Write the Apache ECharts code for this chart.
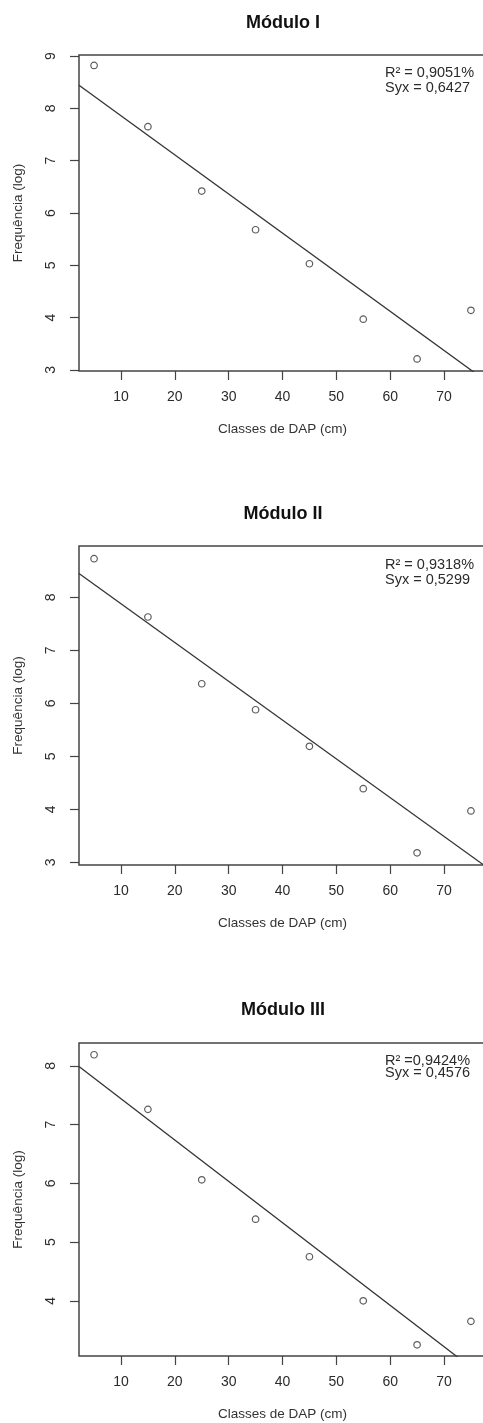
<!DOCTYPE html>
<html>
<head>
<meta charset="utf-8">
<script src="https://cdn.jsdelivr.net/npm/echarts@6/dist/echarts.min.js"></script>
<style>
  html, body { margin: 0; padding: 0; background: #fff; }
  #chart { width: 483px; height: 1423px; }
</style>
</head>
<body>
<div id="chart"></div>
<script>
// classes de DAP (cm)
const dapClasses = [5, 15, 25, 35, 45, 55, 65, 75]
// log da frequência por módulo
const freqModI = [8.82, 7.65, 6.42, 5.68, 5.03, 3.97, 3.21, 4.14]
const freqModII = [8.73, 7.63, 6.37, 5.88, 5.19, 4.39, 3.18, 3.97]
const freqModIII = [8.19, 7.26, 6.06, 5.39, 4.75, 4.00, 3.25, 3.65]

const fitDap = [2.2, 77.8]
const fitModI = [8.44, 2.79]
const fitModII = [8.45, 2.92]
const fitModIII = [7.99, 2.67]

// rótulos dos eixos
const xTicks = [10, 20, 30, 40, 50, 60, 70]
const yTicksI = [3, 4, 5, 6, 7, 8, 9]
const yTicksII = [3, 4, 5, 6, 7, 8]
const yTicksIII = [4, 5, 6, 7, 8]

const titles = ['Módulo I', 'Módulo II', 'Módulo III']
const statsI = ['R² = 0,9051%', 'Syx = 0,6427']
const statsII = ['R² = 0,9318%', 'Syx = 0,5299']
const statsIII = ['R² =0,9424%', 'Syx = 0,4576']

const FONT = 'Liberation Sans, Arial, sans-serif'
const INK = '#2b2b2b'

const panels = [
  { top: 55, height: 316, yMin: 2.98, yMax: 9.02, yTicks: yTicksI, freq: freqModI, fit: fitModI, titleY: 23, stats: statsI, statsY: 65, statsLH: 15 },
  { top: 546, height: 319, yMin: 2.95, yMax: 8.97, yTicks: yTicksII, freq: freqModII, fit: fitModII, titleY: 514, stats: statsII, statsY: 557, statsLH: 15 },
  { top: 1043, height: 313, yMin: 3.06, yMax: 8.39, yTicks: yTicksIII, freq: freqModIII, fit: fitModIII, titleY: 1010, stats: statsIII, statsY: 1055, statsLH: 12 }
]

const grid = []
const xAxis = []
const yAxis = []
const series = []
const graphic = []

panels.forEach((p, i) => {
  grid.push({
    left: 79,
    top: p.top,
    width: 407,
    height: p.height,
    show: true,
    borderColor: '#444',
    borderWidth: 1.5,
    outerBoundsMode: 'none'
  })
  xAxis.push({
    type: 'value',
    gridIndex: i,
    min: 2.2,
    max: 77.8,
    name: 'Classes de DAP (cm)',
    nameLocation: 'middle',
    nameGap: 51,
    nameTextStyle: { fontFamily: FONT, fontSize: 13.5, color: '#333' },
    axisLine: { show: false },
    axisTick: { show: true, length: 9, lineStyle: { color: '#444', width: 1.2 }, customValues: xTicks },
    axisLabel: { fontFamily: FONT, fontSize: 14, color: INK, margin: 19, customValues: xTicks },
    splitLine: { show: false }
  })
  yAxis.push({
    type: 'value',
    gridIndex: i,
    min: p.yMin,
    max: p.yMax,
    name: 'Frequência (log)',
    nameLocation: 'middle',
    nameRotate: 90,
    nameGap: 54,
    nameTextStyle: { fontFamily: FONT, fontSize: 13.5, color: '#333' },
    axisLine: { show: false },
    axisTick: { show: true, length: 9, lineStyle: { color: '#444', width: 1.2 }, customValues: p.yTicks },
    axisLabel: { fontFamily: FONT, fontSize: 14, color: INK, margin: 21, rotate: 90, customValues: p.yTicks },
    splitLine: { show: false }
  })
  series.push({
    type: 'line',
    xAxisIndex: i,
    yAxisIndex: i,
    data: fitDap.map((x, k) => [x, p.fit[k]]),
    showSymbol: false,
    clip: true,
    silent: true,
    lineStyle: { color: '#333', width: 1.3 }
  })
  series.push({
    type: 'scatter',
    xAxisIndex: i,
    yAxisIndex: i,
    data: dapClasses.map((x, k) => [x, p.freq[k]]),
    symbol: 'circle',
    symbolSize: 6.5,
    silent: true,
    itemStyle: { color: 'rgba(0,0,0,0)', borderColor: '#333', borderWidth: 1.2 }
  })
  graphic.push({
    type: 'text',
    x: 283,
    y: p.titleY,
    style: {
      text: titles[i],
      font: 'bold 18px ' + FONT,
      fill: '#111',
      textAlign: 'center',
      textVerticalAlign: 'middle'
    }
  })
  graphic.push({
    type: 'text',
    x: 385,
    y: p.statsY,
    style: {
      text: p.stats.join('\n'),
      font: '14.5px ' + FONT,
      lineHeight: p.statsLH,
      fill: INK,
      textAlign: 'left',
      textVerticalAlign: 'top'
    }
  })
})

const chart = echarts.init(document.getElementById('chart'), null, { renderer: 'canvas' })
chart.setOption({
  animation: false,
  backgroundColor: '#fff',
  grid,
  xAxis,
  yAxis,
  series,
  graphic
})
</script>
</body>
</html>
